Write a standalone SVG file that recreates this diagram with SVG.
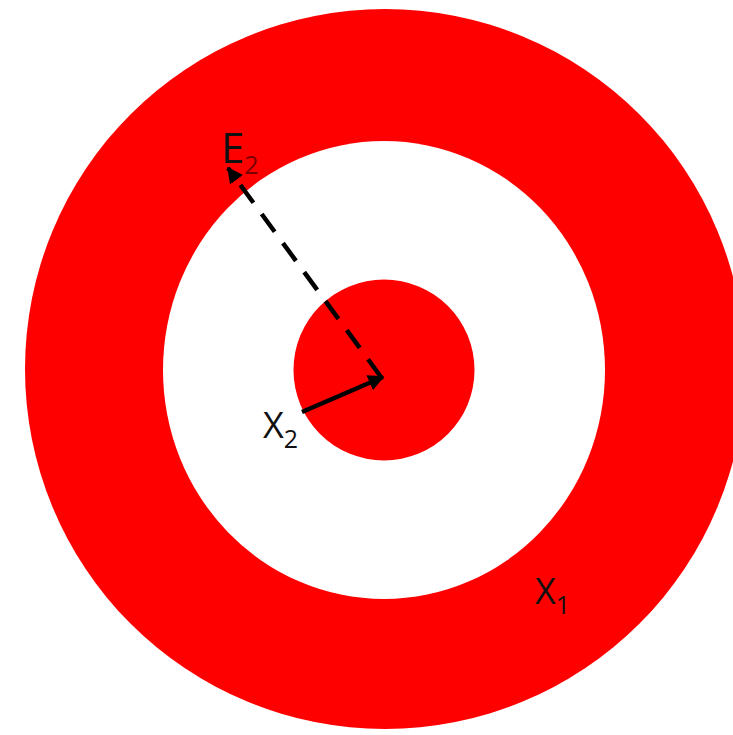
<svg xmlns="http://www.w3.org/2000/svg" width="733" height="735" viewBox="0 0 733 735">
<style>
.lbl{font-family:"Open Sans","Liberation Sans",sans-serif;fill:#111}
.sub{font-size:25px}
.arr{stroke:#000;stroke-width:4.5;fill:none}
</style>
<defs>
<marker id="ah" viewBox="0 0 10 10" refX="9" refY="5" markerWidth="3.6" markerHeight="3.6" orient="auto" markerUnits="strokeWidth">
<path d="M0,0 L10,5 L0,10 Z" fill="#000"/>
</marker>
</defs>
<rect width="733" height="735" fill="#fff"/>
<g id="outer-ring"><ellipse cx="385" cy="369" rx="360" ry="360" fill="#ff0000"/></g>
<g id="white-ring"><ellipse cx="384" cy="370" rx="221" ry="229" fill="#fff"/></g>
<g id="inner-disc"><circle cx="384" cy="370" r="90.5" fill="#ff0000"/></g>
<g id="connectors">
<line class="arr" x1="381" y1="377" x2="228" y2="168" stroke-dasharray="22,14" marker-end="url(#ah)"/>
<line class="arr" x1="302" y1="412" x2="383" y2="377" marker-end="url(#ah)"/>
</g>
<g id="label-E2"><text class="lbl" x="221" y="163" font-size="42">E<tspan class="sub" dy="11" fill="#7a0000">2</tspan></text></g>
<g id="label-X2"><text class="lbl" x="263" y="438" font-size="36" fill="#222">X<tspan class="sub" dy="10">2</tspan></text></g>
<g id="label-X1"><text class="lbl" x="535" y="604" font-size="36">X<tspan class="sub" dy="10">1</tspan></text></g>
</svg>
